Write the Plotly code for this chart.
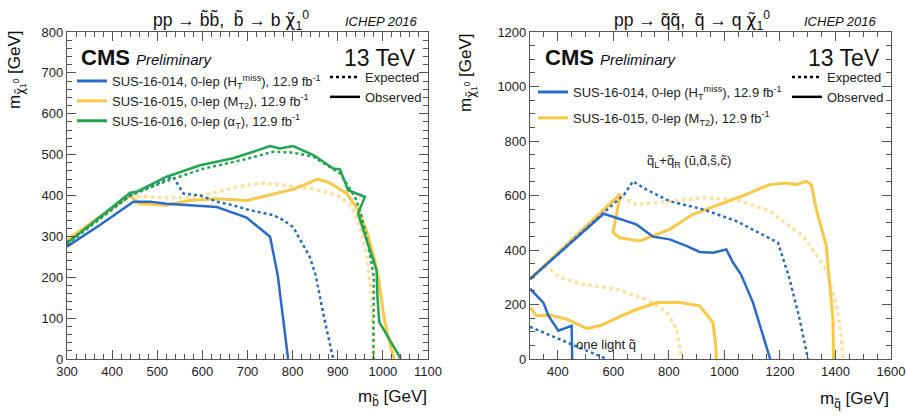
import plotly.graph_objects as go

# ---------------- data: left panel (bottom squark) ----------------
sb_014_obs_x = [300, 373, 447, 484, 521, 610, 632, 698, 750, 767, 790]
sb_014_obs_y = [275, 328, 385, 385, 380, 374, 372, 346, 299, 205, 0]
sb_014_exp_x = [300, 440, 535, 558, 595, 632, 668, 705, 757, 779, 801, 838, 851, 870, 890]
sb_014_exp_y = [285, 400, 446, 405, 400, 385, 376, 364, 352, 340, 323, 250, 205, 100, 0]

sb_015_obs_x = [300, 440, 460, 520, 570, 630, 700, 745, 800, 830, 855, 880, 920, 945, 965, 980, 990, 1000, 1010, 1025]
sb_015_obs_y = [291, 400, 380, 376, 388, 392, 388, 400, 415, 428, 440, 432, 405, 365, 310, 250, 200, 120, 60, 0]
sb_015_exp_x = [300, 440, 500, 560, 620, 680, 730, 780, 850, 900, 930, 950, 965, 975, 980]
sb_015_exp_y = [291, 400, 395, 395, 405, 422, 430, 425, 415, 400, 375, 320, 250, 150, 0]

sb_016_obs_x = [300, 440, 454, 521, 595, 668, 713, 750, 772, 801, 846, 890, 905, 923, 960, 945, 964, 986, 988, 992, 1040]
sb_016_obs_y = [283, 407, 409, 446, 474, 491, 507, 521, 515, 521, 499, 466, 464, 413, 397, 356, 291, 218, 150, 90, 0]
sb_016_exp_x = [300, 440, 520, 600, 700, 757, 800, 846, 905, 938, 949, 964, 975, 980, 979]
sb_016_exp_y = [280, 400, 435, 465, 490, 507, 505, 495, 454, 397, 364, 299, 234, 200, 0]

# ---------------- data: right panel (light squarks) ----------------
sq_014_obs_x = [300, 565, 599, 683, 743, 803, 863, 911, 959, 1007, 1031, 1060, 1103, 1139, 1165]
sq_014_obs_y = [293, 533, 522, 494, 449, 439, 415, 393, 390, 402, 354, 310, 207, 85, 0]
sq_014_exp_x = [300, 640, 671, 719, 803, 923, 1043, 1193, 1235, 1271, 1301]
sq_014_exp_y = [293, 605, 652, 622, 579, 549, 506, 427, 293, 146, 0]

sq_015_obs_x = [300, 625, 599, 623, 695, 743, 803, 887, 983, 1079, 1163, 1223, 1259, 1295, 1313, 1331, 1367, 1379, 1391, 1393]
sq_015_obs_y = [293, 605, 464, 445, 433, 451, 476, 531, 567, 604, 640, 646, 640, 652, 640, 549, 415, 293, 146, 0]
sq_015_exp_x = [300, 625, 640, 683, 803, 923, 1043, 1163, 1283, 1367, 1403, 1421, 1427]
sq_015_exp_y = [293, 605, 590, 567, 579, 592, 585, 543, 451, 329, 200, 85, 0]

sq1_014_obs_x = [300, 348, 366, 402, 450, 452]
sq1_014_obs_y = [258, 207, 160, 104, 122, 0]
sq1_014_exp_x = [300, 440, 576]
sq1_014_exp_y = [118, 58, 0]

sq1_015_obs_x = [300, 324, 372, 432, 504, 552, 612, 672, 756, 839, 911, 959, 968, 971]
sq1_015_obs_y = [189, 159, 161, 146, 112, 122, 150, 177, 207, 207, 195, 134, 60, 0]
sq1_015_exp_x = [350, 372, 408, 492, 612, 732, 792, 828, 846]
sq1_015_exp_y = [338, 329, 299, 274, 256, 213, 171, 110, 0]

left_legend_labels = [
    "SUS-16-014, 0-lep (H<sub>T</sub><sup>miss</sup>), 12.9 fb<sup>-1</sup>",
    "SUS-16-015, 0-lep (M<sub>T2</sub>), 12.9 fb<sup>-1</sup>",
    "SUS-16-016, 0-lep (α<sub>T</sub>), 12.9 fb<sup>-1</sup>",
]
right_legend_labels = left_legend_labels[:2]

BLUE = "rgb(40,108,200)"
YEL = "rgb(250,200,70)"
YEL_EXP = "rgba(250,205,90,0.6)"
GREEN = "rgb(35,165,80)"
FONT = "Liberation Sans, Arial, sans-serif"
CHI = "<span style='font-family:DejaVu Sans'>χ̃</span>"

W, H = 906, 416
def px(x):
    return x / W
def py(y):
    return 1 - y / H

fig = go.Figure()

def add(x, y, color, dash, width, xa, ya):
    fig.add_trace(go.Scatter(
        x=x, y=y, mode="lines", xaxis=xa, yaxis=ya,
        line=dict(color=color, dash=dash, width=width),
        showlegend=False, hoverinfo="skip"))

# left panel curves
add(sb_015_exp_x, sb_015_exp_y, YEL_EXP, "dot", 3.5, "x", "y")
add(sb_015_obs_x, sb_015_obs_y, YEL, "solid", 3, "x", "y")
add(sb_014_exp_x, sb_014_exp_y, BLUE, "dot", 2.5, "x", "y")
add(sb_014_obs_x, sb_014_obs_y, BLUE, "solid", 2.5, "x", "y")
add(sb_016_exp_x, sb_016_exp_y, GREEN, "dot", 2.5, "x", "y")
add(sb_016_obs_x, sb_016_obs_y, GREEN, "solid", 2.5, "x", "y")

# right panel curves
add(sq_015_exp_x, sq_015_exp_y, YEL_EXP, "dot", 3.5, "x2", "y2")
add(sq1_015_exp_x, sq1_015_exp_y, YEL_EXP, "dot", 3.5, "x2", "y2")
add(sq_015_obs_x, sq_015_obs_y, YEL, "solid", 3, "x2", "y2")
add(sq1_015_obs_x, sq1_015_obs_y, YEL, "solid", 3, "x2", "y2")
add(sq_014_exp_x, sq_014_exp_y, BLUE, "dot", 2.5, "x2", "y2")
add(sq1_014_exp_x, sq1_014_exp_y, BLUE, "dot", 2.5, "x2", "y2")
add(sq_014_obs_x, sq_014_obs_y, BLUE, "solid", 2.5, "x2", "y2")
add(sq1_014_obs_x, sq1_014_obs_y, BLUE, "solid", 2.5, "x2", "y2")

# legend entries
for lab, col in zip(left_legend_labels, [BLUE, YEL, GREEN]):
    fig.add_trace(go.Scatter(x=[None], y=[None], mode="lines", name=lab,
                             line=dict(color=col, width=3), legend="legend", xaxis="x", yaxis="y"))
for lab, dash in [("Expected", "dot"), ("Observed", "solid")]:
    fig.add_trace(go.Scatter(x=[None], y=[None], mode="lines", name=lab,
                             line=dict(color="black", width=2.5, dash=dash), legend="legend2", xaxis="x", yaxis="y"))
for lab, col in zip(right_legend_labels, [BLUE, YEL]):
    fig.add_trace(go.Scatter(x=[None], y=[None], mode="lines", name=lab, legendgroup=lab,
                             line=dict(color=col, width=3), legend="legend3", xaxis="x2", yaxis="y2"))
for lab, dash in [("Expected", "dot"), ("Observed", "solid")]:
    fig.add_trace(go.Scatter(x=[None], y=[None], mode="lines", name=lab,
                             line=dict(color="black", width=2.5, dash=dash), legend="legend4", xaxis="x2", yaxis="y2"))

axis_common = dict(showline=True, linecolor="#555", linewidth=1.2, mirror="allticks",
                   ticks="inside", ticklen=9, tickcolor="#555", tickwidth=1.2,
                   showgrid=False, zeroline=False, automargin=False,
                   tickfont=dict(size=13, color="#222", family=FONT))

ydom = [py(359), py(32)]
leg_font = dict(size=13, family=FONT, color="#222")
fig.update_layout(
    width=W, height=H, margin=dict(l=0, r=0, t=0, b=0, autoexpand=False),
    paper_bgcolor="white", plot_bgcolor="white",
    font=dict(family=FONT, color="#111"),
    xaxis=dict(domain=[px(67), px(428)], range=[300, 1100], dtick=100, anchor="y",
               minor=dict(dtick=20, ticklen=5, ticks="inside", tickcolor="#555"), **axis_common),
    yaxis=dict(domain=ydom, range=[0, 800], dtick=100, anchor="x",
               minor=dict(dtick=20, ticklen=5, ticks="inside", tickcolor="#555"), **axis_common),
    xaxis2=dict(domain=[px(530), px(891)], range=[300, 1600], tick0=400, dtick=200, anchor="y2",
                minor=dict(dtick=50, ticklen=5, ticks="inside", tickcolor="#555"),
                ticklabeloverflow="allow", **axis_common),
    yaxis2=dict(domain=ydom, range=[0, 1200], dtick=200, anchor="x2",
                minor=dict(dtick=50, ticklen=5, ticks="inside", tickcolor="#555"), **axis_common),
    legend=dict(x=px(72), y=py(66), xanchor="left", yanchor="top", bgcolor="rgba(0,0,0,0)",
                font=leg_font, tracegroupgap=0, itemwidth=30),
    legend2=dict(x=px(427), y=py(62), xanchor="right", yanchor="top", bgcolor="rgba(0,0,0,0)",
                 font=leg_font),
    legend3=dict(x=px(533), y=py(77), xanchor="left", yanchor="top", bgcolor="rgba(0,0,0,0)",
                 font=leg_font, tracegroupgap=6),
    legend4=dict(x=px(889), y=py(62), xanchor="right", yanchor="top", bgcolor="rgba(0,0,0,0)",
                 font=leg_font),
)

ann = []
def A(text, x, y, size, xanchor="center", yanchor="middle", angle=0, xref="paper", yref="paper", color="#111"):
    ann.append(dict(text=text, x=x, y=y, xref=xref, yref=yref, showarrow=False,
                    xanchor=xanchor, yanchor=yanchor, textangle=angle,
                    font=dict(size=size, family=FONT, color=color)))

# titles
A("pp → b̃b̃,  b̃ → b " + CHI + "<sub>1</sub><sup>0</sup>", px(231), py(20), 17.5)
A("<i>ICHEP 2016</i>", px(381), py(21), 13)
A("pp → q̃q̃,  q̃ → q " + CHI + "<sub>1</sub><sup>0</sup>", px(692), py(20), 17.5)
A("<i>ICHEP 2016</i>", px(840), py(21), 13)
# CMS labels
A("<b>CMS</b> <i><span style='font-size:15px'>Preliminary</span></i>", px(79), py(58), 22, xanchor="left")
A("13 TeV", px(418), py(58), 23, xanchor="right")
A("<b>CMS</b> <i><span style='font-size:15px'>Preliminary</span></i>", px(543), py(58), 22, xanchor="left")
A("13 TeV", px(882), py(58), 23, xanchor="right")
# axis titles
A("m<sub>" + CHI + "<sub>1</sub><sup>0</sup></sub> [GeV]", px(16), py(70), 17, angle=-90)
A("m<sub>b̃</sub> [GeV]", px(429), py(398), 17, xanchor="right")
A("m<sub>" + CHI + "<sub>1</sub><sup>0</sup></sub> [GeV]", px(467), py(72), 17, angle=-90)
A("m<sub>q̃</sub> [GeV]", px(891), py(400), 17, xanchor="right")
# in-plot labels
A("q̃<sub>L</sub>+q̃<sub>R</sub> (ũ,d̃,s̃,c̃)", 873, 725, 13, xref="x2", yref="y2", color="#222")
A("one light q̃", 572, 55, 13, xref="x2", yref="y2", color="#222")

fig.update_layout(annotations=ann)
# the page body has no margin so the figure fills the 906x416 window exactly
fig.write_html("out.html",
               config={"displayModeBar": False},
               post_script="document.body.style.margin='0';"
                           "document.documentElement.style.overflow='hidden';"
                           "document.body.style.overflow='hidden';")
